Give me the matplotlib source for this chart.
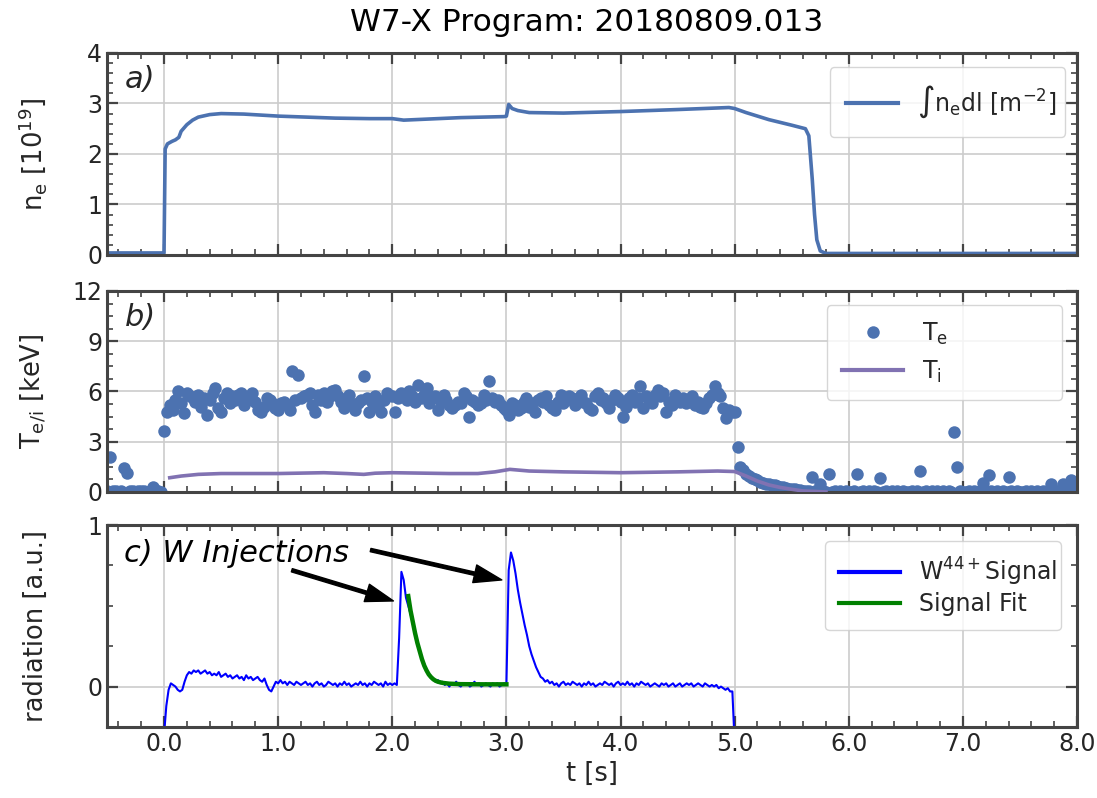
import numpy as np
import matplotlib
matplotlib.use("Agg")
import matplotlib.pyplot as plt
from matplotlib.ticker import MultipleLocator, FormatStrFormatter

# --------------------------------------------------
# DATA
# --------------------------------------------------

# a) line integrated density [1e19 m^-2]
NE_TIME = [-0.5, -0.01, 0.0, 0.01, 0.03, 0.07, 0.10, 0.13, 0.15, 0.20, 0.25, 0.30,
           0.40, 0.50, 0.70, 1.00, 1.50, 1.80, 2.00, 2.10, 2.30, 2.60, 2.98, 3.00,
           3.02, 3.05, 3.10, 3.20, 3.50, 4.00, 4.50, 4.95, 5.00, 5.10, 5.30, 5.50,
           5.62, 5.65, 5.68, 5.70, 5.72, 5.75, 5.80, 8.0]
NE_VALUES = [0.04, 0.04, 0.04, 2.10, 2.20, 2.25, 2.28, 2.33, 2.45, 2.58, 2.67, 2.73,
             2.78, 2.80, 2.79, 2.75, 2.71, 2.70, 2.70, 2.67, 2.69, 2.72, 2.74, 2.75,
             2.98, 2.90, 2.86, 2.82, 2.81, 2.84, 2.88, 2.92, 2.90, 2.82, 2.68, 2.57,
             2.50, 2.36, 1.50, 0.80, 0.30, 0.08, 0.03, 0.03]

# b) Thomson scattering T_e [keV], one value every 25 ms from -0.5 s to 8.0 s
TE_VALUES = [
    0.05, 2.1, 0.05, 0.04, 0.02, 0.05, 1.45, 1.15, 0.05, 0.03,
    0.02, 0.05, 0.03, 0.04, 0.02, 0.05, 0.3, 0.1, 0.03, 0.02,
    3.65,
    4.8, 5.2, 4.9, 5.5, 6.0, 5.3, 4.7, 5.9, 5.7, 5.6, 5.4, 5.8, 5.1, 5.6, 4.6, 5.5, 5.9, 6.2, 5.0, 4.8,
    5.6, 5.9, 5.3, 5.7, 5.5, 5.8, 5.9, 5.2, 5.5, 5.7, 5.9, 5.4, 4.9, 4.8, 5.1, 5.6, 5.5, 5.3, 5.0, 4.9,
    5.3, 5.4, 5.2, 4.9, 7.2, 5.5, 7.0, 5.6, 5.7, 5.8, 5.9, 5.2, 4.8, 5.8, 5.5, 5.9, 5.4, 5.7, 6.0, 6.1,
    5.7, 5.4, 5.0, 5.6, 5.8, 5.2, 4.9, 5.3, 5.5, 6.9, 5.6, 4.8, 5.4, 5.7, 5.1, 4.8, 5.5, 5.9, 5.8, 5.7,
    4.8, 5.6, 5.9, 5.8, 5.5, 6.0, 5.7, 5.4, 6.4, 5.6, 5.8, 6.2, 5.3, 5.6, 5.7, 4.9, 5.4, 5.8, 5.5, 5.2,
    5.0, 5.2, 5.4, 5.3, 5.9, 5.7, 4.5, 5.5, 5.4, 5.2, 5.3, 5.8, 5.5, 6.6, 5.6, 5.4, 5.5, 5.2, 5.0, 4.9,
    4.6, 5.3, 5.2, 4.9, 5.0, 5.4, 5.6, 5.1, 5.3, 4.8, 5.5, 5.6, 5.4, 5.7, 5.2, 5.0, 4.9, 5.4, 5.8, 5.3,
    5.5, 5.7, 5.6, 5.2, 5.5, 5.8, 5.4, 5.3, 5.0, 4.9, 5.7, 5.9, 5.5, 5.6, 5.3, 5.0, 5.5, 5.8, 5.6, 5.4,
    4.5, 5.1, 5.6, 5.8, 5.4, 5.6, 6.3, 5.0, 5.7, 5.5, 5.3, 5.8, 6.1, 5.7, 5.9, 4.8, 5.4, 5.2, 5.8, 5.6,
    5.4, 5.6, 5.3, 5.5, 5.7, 5.2, 5.4, 5.1, 5.0, 5.3, 5.6, 5.8, 6.3, 5.9, 5.7, 5.0, 4.4, 4.9, 4.8, 4.8,
    2.7, 1.5, 1.3, 1.1, 0.95, 0.85, 0.75, 0.7, 0.6, 0.55, 0.5, 0.45, 0.4, 0.4, 0.35, 0.3, 0.3, 0.25, 0.2, 0.2,
    0.15, 0.12, 0.1, 0.08, 0.06, 0.05, 0.9, 0.04, 0.03, 0.5, 0.03, 0.02, 1.1, 0.02, 0.03, 0.02, 0.03, 0.02, 0.03, 0.02,
    0.02, 0.03, 1.1, 0.02, 0.03, 0.02, 0.03, 0.02, 0.03, 0.02, 0.85, 0.02, 0.03, 0.02, 0.03, 0.02, 0.03, 0.02, 0.03, 0.02,
    0.02, 0.03, 0.02, 0.03, 1.27, 0.02, 0.03, 0.02, 0.03, 0.02, 0.03, 0.02, 0.03, 0.02, 0.03, 0.02, 3.55, 1.5, 0.03, 0.02,
    0.02, 0.03, 0.02, 0.03, 0.02, 0.03, 0.55, 0.02, 1.0, 0.03, 0.02, 0.03, 0.02, 0.03, 0.02, 0.9, 0.03, 0.02, 0.03, 0.02,
    0.02, 0.03, 0.02, 0.03, 0.02, 0.03, 0.02, 0.03, 0.02, 0.03, 0.5, 0.02, 0.03, 0.02, 0.5, 0.03, 0.02, 0.7, 0.4, 0.03,
]
TE_TIME = np.linspace(-0.5, 8.0, len(TE_VALUES))

# b) ion temperature T_i [keV]
TI_TIME = [0.05, 0.15, 0.30, 0.50, 1.00, 1.40, 1.60, 1.75, 1.85, 2.00, 2.50, 2.75,
           2.90, 3.03, 3.20, 3.50, 4.00, 4.50, 4.85, 5.00, 5.10, 5.20, 5.30, 5.40,
           5.50, 5.60, 5.80]
TI_VALUES = [0.85, 0.95, 1.05, 1.10, 1.10, 1.15, 1.10, 1.05, 1.12, 1.15, 1.10, 1.10,
             1.20, 1.35, 1.25, 1.20, 1.15, 1.20, 1.25, 1.22, 0.95, 0.65, 0.42, 0.27,
             0.16, 0.06, 0.0]

# c) W44+ line radiation [a.u.], one value every 20 ms from 0.0 s to 5.0 s
SIG_VALUES = [
    -0.30, -0.12, -0.02, 0.02, 0.01, 0.0, -0.02, -0.03, -0.02, 0.03, 0.07,
    0.09, 0.08, 0.10, 0.09, 0.10, 0.08, 0.09, 0.10, 0.08, 0.09,
    0.07, 0.08, 0.07, 0.09, 0.06, 0.07, 0.08, 0.06, 0.07, 0.05,
    0.06, 0.07, 0.05, 0.06, 0.04, 0.07, 0.05, 0.06, 0.04, 0.05,
    0.06, 0.04, 0.03, 0.05, 0.01, -0.02, -0.03, 0.0, 0.03, 0.02,
    0.04, 0.02, 0.03, 0.01, 0.03, 0.02, 0.01, 0.03, 0.02, 0.01,
    0.02, 0.03, 0.01, 0.02, 0.0, 0.02, 0.03, 0.01, 0.02, 0.0,
    0.01, 0.03, 0.02, 0.01, 0.02, 0.0, 0.02, 0.01, 0.03, 0.01,
    0.02, 0.0, 0.01, 0.02, 0.01, 0.03, 0.01, 0.02, 0.0, 0.02,
    0.01, 0.03, 0.02, 0.01, 0.02, 0.0, 0.03, 0.01, 0.02, 0.01,
    0.02, 0.01, 0.30, 0.71, 0.66, 0.55, 0.50, 0.45, 0.39, 0.34,
    0.27, 0.23, 0.17, 0.14, 0.10, 0.08, 0.06, 0.05, 0.03, 0.04,
    0.02, 0.03, 0.01, 0.02, 0.0, 0.02, 0.01, 0.03, 0.01, 0.0,
    0.02, 0.01, 0.02, 0.0, 0.01, 0.03, 0.01, 0.02, 0.0, 0.01,
    0.02, 0.01, 0.0, 0.02, 0.01, 0.02, 0.0, 0.01, 0.02, 0.01,
    0.72, 0.83, 0.78, 0.70, 0.60, 0.52, 0.45, 0.38, 0.32, 0.25,
    0.20, 0.16, 0.12, 0.09, 0.06, 0.05, 0.03, 0.04, 0.02, 0.03,
    0.01, 0.02, 0.0, 0.02, 0.03, 0.01, 0.02, 0.01, 0.03, 0.02,
    0.01, 0.02, 0.0, 0.02, 0.01, 0.03, 0.01, 0.02, 0.0, 0.01,
    0.02, 0.01, 0.03, 0.02, 0.01, 0.02, 0.0, 0.02, 0.03, 0.01,
    0.02, 0.01, 0.03, 0.01, 0.02, 0.0, 0.02, 0.01, 0.03, 0.02,
    0.01, 0.02, 0.0, 0.01, 0.02, 0.01, 0.0, 0.02, 0.01, 0.02,
    0.0, 0.01, 0.02, 0.0, 0.01, 0.02, 0.0, 0.01, 0.02, 0.01,
    0.02, 0.0, 0.01, 0.02, 0.01, 0.0, 0.02, 0.01, 0.0, 0.01,
    0.0, 0.01, -0.01, 0.0, -0.01, -0.02, -0.01, -0.03, -0.03, -0.35,
]
SIG_TIME = np.linspace(0.0, 5.0, len(SIG_VALUES))

# c) decay fit of the first injection
FIT_TIME = [2.14, 2.16, 2.18, 2.20, 2.22, 2.24, 2.26, 2.28, 2.30, 2.32, 2.34, 2.36,
            2.38, 2.40, 2.44, 2.50, 2.60, 2.80, 3.00]
FIT_VALUES = [0.56, 0.47, 0.40, 0.33, 0.27, 0.22, 0.17, 0.13, 0.10, 0.075, 0.058, 0.045,
              0.036, 0.030, 0.023, 0.018, 0.015, 0.014, 0.014]

X_TICKS = [0, 1, 2, 3, 4, 5, 6, 7, 8]

# --------------------------------------------------
# STYLE
# --------------------------------------------------

SPINE = "#444444"
TEXT = "#262626"
DEEP_BLUE = "#4C72B0"
DEEP_PURPLE = "#8172B2"

plt.rcParams.update({
    "font.family": "DejaVu Sans",
    "font.size": 17,
    "mathtext.default": "regular",
    "text.color": TEXT,
    "axes.labelcolor": TEXT,
    "axes.labelsize": 18.5,
    "axes.edgecolor": SPINE,
    "axes.linewidth": 2.2,
    "xtick.color": SPINE,
    "ytick.color": SPINE,
    "xtick.labelcolor": TEXT,
    "ytick.labelcolor": TEXT,
    "xtick.direction": "in",
    "ytick.direction": "in",
    "xtick.top": True,
    "ytick.right": True,
    "xtick.major.size": 8,
    "ytick.major.size": 8,
    "xtick.minor.size": 4,
    "ytick.minor.size": 4,
    "xtick.major.width": 1.6,
    "ytick.major.width": 1.6,
    "xtick.minor.width": 1.2,
    "ytick.minor.width": 1.2,
    "xtick.labelsize": 17,
    "ytick.labelsize": 17,
    "legend.fontsize": 17,
    "grid.color": "#cccccc",
    "grid.linewidth": 1.2,
})


def style_axis(ax, ymin, ymax, ymajor, yminor):
    ax.set_xlim(-0.5, 8.0)
    ax.set_ylim(ymin, ymax)
    ax.set_xticks(X_TICKS)
    ax.xaxis.set_minor_locator(MultipleLocator(0.2))
    ax.yaxis.set_major_locator(MultipleLocator(ymajor))
    ax.yaxis.set_minor_locator(MultipleLocator(yminor))
    ax.grid(True, which="major")
    ax.set_axisbelow(True)
    ax.yaxis.set_label_coords(-0.06, 0.5)


def make_legend(ax, x0, top, lw=3, borderpad=0.6, labelspacing=0.5, handlelength=2.6):
    leg = ax.legend(loc="upper left", bbox_to_anchor=(x0, 0.0, 0.243, top),
                    mode="expand", borderaxespad=0.0, handlelength=handlelength,
                    borderpad=borderpad, labelspacing=labelspacing,
                    fancybox=True, framealpha=0.8, edgecolor="#cccccc")
    for line in leg.get_lines():
        line.set_linewidth(lw)
    return leg


# --------------------------------------------------
# FIGURE
# --------------------------------------------------

fig = plt.figure(figsize=(10.97, 7.98), dpi=100)
ax_a = fig.add_axes([0.0975, 0.6805, 0.8843, 0.2531])
ax_b = fig.add_axes([0.0975, 0.3835, 0.8843, 0.2519])
ax_c = fig.add_axes([0.0975, 0.0890, 0.8843, 0.2531])

fig.text(0.535, 0.972, "W7-X Program: 20180809.013", ha="center", va="center",
         fontsize=22.5, color="black")

# a) density
ax_a.plot(NE_TIME, NE_VALUES, color=DEEP_BLUE, lw=2.6, label="∫n$_e$dl [m$^{-2}$]")
style_axis(ax_a, 0, 4, 1, 0.2)
ax_a.set_ylabel(r"n$_e$ [10$^{19}$]")
ax_a.tick_params(labelbottom=False)
ax_a.text(0.018, 0.87, "a)", transform=ax_a.transAxes, fontsize=22,
          style="italic", va="center", ha="left")
make_legend(ax_a, 0.745, 0.93, borderpad=0.7, handlelength=2.2)

# b) temperatures
ax_b.plot(TE_TIME, TE_VALUES, "o", color=DEEP_BLUE, ms=9, mew=0, label=r"T$_e$")
ax_b.plot(TI_TIME, TI_VALUES, color=DEEP_PURPLE, lw=2.6, label=r"T$_i$", zorder=3)
style_axis(ax_b, 0, 12, 3, 0.75)
ax_b.set_ylabel(r"T$_{e/i}$ [keV]")
ax_b.tick_params(labelbottom=False)
ax_b.text(0.018, 0.87, "b)", transform=ax_b.transAxes, fontsize=22,
          style="italic", va="center", ha="left")
make_legend(ax_b, 0.742, 0.93, borderpad=0.65)

# c) tungsten radiation
ax_c.plot(SIG_TIME, SIG_VALUES, color="blue", lw=1.5, label=r"W$^{44+}$Signal")
ax_c.plot(FIT_TIME, FIT_VALUES, color="green", lw=3.2, label="Signal Fit")
style_axis(ax_c, -0.25, 1.0, 1, 0.25)
ax_c.set_ylabel("radiation [a.u.]")
ax_c.set_xlabel("t [s]")
ax_c.xaxis.set_major_formatter(FormatStrFormatter("%.1f"))
ax_c.text(0.018, 0.86, "c) W Injections", transform=ax_c.transAxes, fontsize=22,
          style="italic", va="center", ha="left", color="black")
arrow = dict(facecolor="black", edgecolor="black", width=2.4, headwidth=13,
             headlength=20, shrink=0.0)
ax_c.annotate("", xy=(2.01, 0.53), xytext=(1.12, 0.72), arrowprops=arrow)
ax_c.annotate("", xy=(2.96, 0.66), xytext=(1.81, 0.845), arrowprops=arrow)
make_legend(ax_c, 0.740, 0.92, labelspacing=0.2)

fig.savefig("out.png", dpi=100)
plt.close(fig)
